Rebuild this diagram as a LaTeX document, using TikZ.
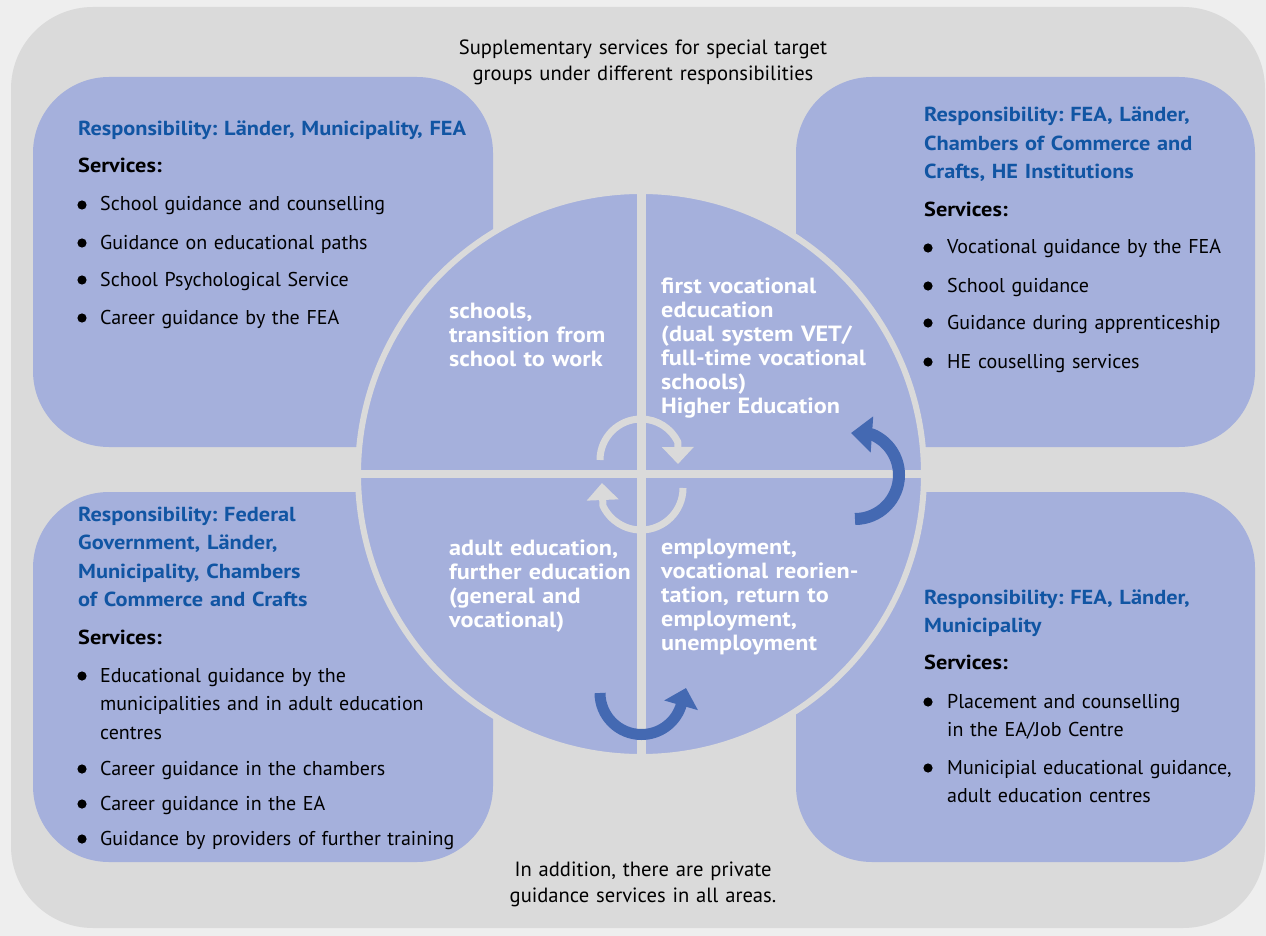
\documentclass[tikz,border=0pt]{standalone}
\usepackage{fontspec}
\setmainfont[BoldFeatures={FakeStretch=1.1}]{PT Sans}
\frenchspacing
\usetikzlibrary{arrows.meta}
\definecolor{bg}{HTML}{EEEEEE}
\definecolor{panel}{HTML}{DADADA}
\definecolor{lav}{HTML}{A5B0DC}
\definecolor{resp}{HTML}{1155A3}
\definecolor{arr}{HTML}{4469B2}
\tikzset{
  box/.style={fill=lav, rounded corners=76pt},
  resphead/.style={anchor=base west, inner sep=0pt, text width=440pt, align=left, text=resp, font=\fontsize{20.3}{28.5}\selectfont\bfseries},
  servhead/.style={anchor=base west, inner sep=0pt, font=\fontsize{20.3}{24}\selectfont\bfseries},
  svcitem/.style={anchor=base west, inner sep=0pt, text width=380pt, align=left, font=\fontsize{20}{28.5}\selectfont},
  quadtext/.style={anchor=base west, inner sep=0pt, text width=240pt, align=left, text=white, font=\fontsize{22}{24}\selectfont\bfseries},
  notetext/.style={anchor=base, inner sep=0pt, text width=440pt, align=center, font=\fontsize{20.6}{26}\selectfont},
}
\begin{document}
\begin{tikzpicture}[x=1pt,y=-1pt, line join=round]
  \useasboundingbox (0,0) rectangle (1266,936);
  \fill[bg] (0,0) rectangle (1266,936);
  \fill[panel, rounded corners=82pt] (11,7) rectangle (1265,928);
  % four boxes
  \fill[box] (33,77) rectangle (493,447);
  \fill[box] (796,77) rectangle (1255,447);
  \fill[box] (33,492) rectangle (493,862);
  \fill[box] (796,492) rectangle (1255,862);
  % circle
  \def\cx{641} \def\cy{474}
  \draw[fill=lav, draw=panel, line width=6] (\cx,\cy) circle[radius=283];
  \draw[panel, line width=9] (\cx,\cy-286) -- (\cx,\cy+286);
  \draw[panel, line width=8] (\cx-286,\cy) -- (\cx+286,\cy);
  % arrows
  \draw[panel, line width=7, -{Triangle[length=17pt,width=31pt]}]
    (600,460) arc[start angle=180, end angle=334, radius=41] -- (678,464);
  \draw[panel, line width=7, -{Triangle[length=17pt,width=31pt]}]
    (683,488) arc[start angle=0, end angle=155, radius=42] -- (602,483);
  \draw[arr, line width=12, -{Triangle[length=21pt,width=35pt]}]
    (855,519) arc[start angle=90, end angle=-67, radius=44] -- (851,433);
  \draw[arr, line width=11, -{Triangle[length=18pt,width=34pt]}]
    (600,693) arc[start angle=180, end angle=20, radius=41.5] -- (686,688);
  % notes
  \node[notetext] (top) at (643,55) {Supplementary services for special target\\groups under different responsibilities};
  \node[notetext] (bottom) at (643,876) {In addition, there are private\\guidance services in all areas.};
  % quadrant texts
  \node[quadtext] (qtl) at (449,318) {schools,\\transition from\\school to work};
  \node[quadtext] (qtr) at (661,293) {first vocational\\edcucation\\(dual system VET/\\full-time vocational\\schools)\\Higher Education};
  \node[quadtext] (qbl) at (449,555) {adult education,\\further education\\(general and\\vocational)};
  \node[quadtext] (qbr) at (661,554) {employment,\\vocational reorien-\\tation, return to\\employment,\\unemployment};
  % top left box
  \node[resphead] (tlHead) at (78,136) {Responsibility: Länder, Municipality, FEA};
  \node[servhead] (tlServ) at (78,173) {Services:};
  \foreach \y/\t [count=\i] in {211/School guidance and counselling, 249/Guidance on educational paths,
      286/School Psychological Service, 324/Career guidance by the FEA}{
    \fill (82,\y-6) circle[radius=4.6];
    \node[svcitem] (tl\i) at (100,\y) {\t};
  }
  % top right box
  \node[resphead] (trHead) at (924,122) {Responsibility: FEA, Länder,\\Chambers of Commerce and\\Crafts, HE Institutions};
  \node[servhead] (trServ) at (924,217) {Services:};
  \foreach \y/\t [count=\i] in {254/Vocational guidance by the FEA, 292/School guidance,
      329/Guidance during apprenticeship, 368/HE couselling services}{
    \fill (928,\y-6) circle[radius=4.6];
    \node[svcitem] (tr\i) at (947,\y) {\t};
  }
  % bottom left box
  \node[resphead] (blHead) at (78,521) {Responsibility: Federal\\Government, Länder,\\Municipality, Chambers\\of Commerce and Crafts};
  \node[servhead] (blServ) at (78,644) {Services:};
  \foreach \y/\t [count=\i] in {682/{Educational guidance by the\\municipalities and in adult education\\centres},
      775/Career guidance in the chambers, 810/Career guidance in the EA,
      845/Guidance by providers of further training}{
    \fill (82,\y-6) circle[radius=4.6];
    \node[svcitem] (bl\i) at (100,\y) {\t};
  }
  % bottom right box
  \node[resphead] (brHead) at (924,604) {Responsibility: FEA, Länder,\\Municipality};
  \node[servhead] (brServ) at (924,669) {Services:};
  \foreach \y/\t [count=\i] in {708/{Placement and counselling\\in the EA/Job Centre},
      774/{Municipial educational guidance,\\adult education centres}}{
    \fill (928,\y-6) circle[radius=4.6];
    \node[svcitem] (br\i) at (947,\y) {\t};
  }
\end{tikzpicture}
\end{document}
